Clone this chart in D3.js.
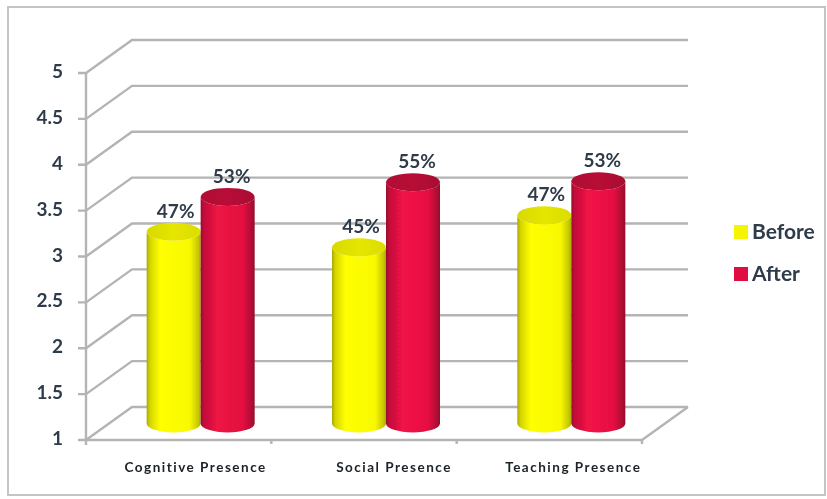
<!DOCTYPE html>
<html><head><meta charset="utf-8">
<script src="https://cdn.jsdelivr.net/npm/d3@7"></script>
<style>html,body{margin:0;padding:0;background:#fff}svg{display:block}text{font-family:Lato,"Open Sans",sans-serif}</style>
</head><body><svg id="c" width="827" height="499"></svg>
<script>
const categories=["Cognitive Presence","Social Presence","Teaching Presence"];
const seriesNames=["Before","After"];
const before=[3.09,2.92,3.27];
const after=[3.47,3.63,3.64];
const beforeLabels=["47%","45%","47%"];
const afterLabels=["53%","55%","53%"];
const tickValues=[1,1.5,2,2.5,3,3.5,4,4.5,5];
const tickLabels=["1","1.5","2","2.5","3","3.5","4","4.5","5"];
const labelShift=[17,30,24];

const svg=d3.select("#c");
const defs=svg.append("defs");
const blur=(id,s)=>defs.append("filter").attr("id",id).attr("x","-5%").attr("y","-5%").attr("width","110%").attr("height","110%")
  .append("feGaussianBlur").attr("stdDeviation",s);
blur("soft",0.7);
blur("txt",0.4);
function grad(id,stops){
  const g=defs.append("linearGradient").attr("id",id);
  stops.forEach(s=>g.append("stop").attr("offset",s[0]).attr("stop-color",s[1]));
}
grad("yb",[[0,"#a8a800"],[0.06,"#d4d400"],[0.25,"#ffff00"],[0.8,"#f8f800"],[0.96,"#c4c400"],[1,"#a8a800"]]);
grad("rb",[[0,"#960b2e"],[0.06,"#c21039"],[0.3,"#ee1244"],[0.78,"#e61142"],[0.95,"#ad0d33"],[1,"#920b2c"]]);
grad("yt",[[0,"#d8d800"],[0.5,"#e6e600"],[1,"#dcdc00"]]);
grad("rt",[[0,"#b00d34"],[0.5,"#b80e37"],[1,"#a80c31"]]);

const depthX=46, depthY=-33;
const x=d3.scaleBand().domain(categories).range([86,642]);
const y=d3.scaleLinear().domain([1,5]).range([440,73]);
const inner=d3.scaleBand().domain(seriesNames).range([-55,53]);
const grey="#b4b4b4";

const root=svg.append("g").attr("filter","url(#soft)");
root.append("rect").attr("x",8).attr("y",7).attr("width",817).attr("height",488)
  .attr("fill","#fff").attr("stroke","#c4c4c4").attr("stroke-width",2);

const grid=root.append("g").attr("fill","none").attr("stroke",grey).attr("stroke-width",2.4);
tickValues.forEach(v=>{
  grid.append("path").attr("d",d3.line()([
    [x.range()[0]-8,y(v)],[x.range()[0],y(v)],
    [x.range()[0]+depthX,y(v)+depthY],[x.range()[1]+depthX,y(v)+depthY]]));
});
grid.append("path").attr("d",d3.line()([[x.range()[0],y(5)],[x.range()[0],y(1)+5]]));
grid.append("path").attr("d",d3.line()([[x.range()[0],y(1)],[x.range()[1],y(1)],[x.range()[1]+depthX,y(1)+depthY]]));
categories.forEach(c=>{
  grid.append("path").attr("d",d3.line()([[x(c)+x.bandwidth(),y(1)],[x(c)+x.bandwidth(),y(1)+4]]));
});

function cyl(g,cat,name,v,side,top){
  const cx=x(cat)+x.bandwidth()/2+depthX/2+inner(name)+inner.bandwidth()/2;
  const rx=inner.bandwidth()/2, ry=9;
  const yt=y(v)+depthY/2, yb=y(1)+depthY/2;
  g.append("path").attr("fill",`url(#${side})`)
    .attr("d",`M${cx-rx},${yt}L${cx-rx},${yb}A${rx},${ry} 0 0 0 ${cx+rx},${yb}L${cx+rx},${yt}A${rx},${ry} 0 0 1 ${cx-rx},${yt}Z`);
  g.append("ellipse").attr("cx",cx).attr("cy",yt).attr("rx",rx).attr("ry",ry).attr("fill",`url(#${top})`);
  return [cx,yt-ry];
}
const bars=root.append("g");
const textColor="#2f3b4a";
const texts=svg.append("g").attr("filter","url(#txt)");
const lab=(p,t,dx,dy)=>texts.append("text").attr("x",p[0]+dx).attr("y",p[1]+dy).attr("text-anchor","middle")
  .attr("font-size",19).attr("font-weight",700).attr("fill",textColor).text(t);
categories.forEach((c,i)=>{
  const a=cyl(bars,c,"Before",before[i],"yb","yt");
  const b=cyl(bars,c,"After",after[i],"rb","rt");
  lab(a,beforeLabels[i],2,-5);
  lab(b,afterLabels[i],4,-5);
  texts.append("text").attr("x",x(c)+x.bandwidth()/2+labelShift[i]).attr("y",472).attr("text-anchor","middle")
    .attr("font-size",13.5).attr("font-weight",700).attr("letter-spacing",1.5).attr("fill","#1a2028").text(c);
});
tickValues.forEach((v,i)=>{
  texts.append("text").attr("x",63).attr("y",y(v)+5).attr("text-anchor","end")
    .attr("font-size",19).attr("font-weight",700).attr("fill",textColor).text(tickLabels[i]);
});
const legendY=d3.scalePoint().domain(seriesNames).range([232,274]);
const legendFill={Before:"#f5f500",After:"#e0113f"};
seriesNames.forEach(n=>{
  root.append("rect").attr("x",734).attr("y",legendY(n)-7).attr("width",14).attr("height",14).attr("fill",legendFill[n]);
  texts.append("text").attr("x",752).attr("y",legendY(n)+7).attr("font-size",21).attr("font-weight",700).attr("fill",textColor).text(n);
});
</script>
</body></html>
